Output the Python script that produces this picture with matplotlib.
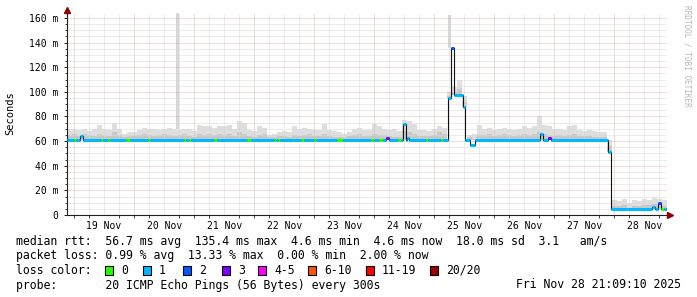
import numpy as np
import matplotlib
matplotlib.use("Agg")
import matplotlib.pyplot as plt
from matplotlib.patches import Rectangle

# time axis: hours since Nov 18 00:00
t_start = 21.15
t_end = 261.15

# median rtt (ms): step starts, values, lost pings out of 20
med_t = [21.15, 23.95, 24.75, 26.35, 27.55, 34.75, 35.55, 37.55, 38.35, 44.75,
         46.35, 53.55, 54.35, 67.95, 68.75, 69.95, 70.75, 79.95, 81.15, 93.15,
         94.75, 103.95, 104.75, 105.55, 106.35, 114.75, 115.95, 119.95, 120.75, 129.15,
         131.55, 142.75, 143.95, 145.95, 147.55, 148.75, 149.95, 153.55, 154.75, 155.55,
         156.75, 157.15, 157.95, 164.75, 165.55, 170.75, 171.55, 173.55, 174.75, 175.95,
         179.55, 180.35, 182.35, 184.35, 210.35, 211.55, 213.55, 214.75, 237.55, 238.75,
         255.15, 256.35, 257.55, 258.75, 259.95]
med_ms = [61, 61, 61, 64, 61, 61, 61, 61, 61, 61,
          61, 61, 61, 61, 61, 61, 61, 61, 61, 61,
          61, 61, 61, 61, 61, 61, 61, 61, 61, 61,
          61, 61, 61, 61, 61, 62.5, 61, 61, 61, 74,
          61, 62.5, 61, 61, 61, 61, 61, 95, 135.4, 97.5,
          88, 61, 57, 61, 65.5, 61, 62.5, 61, 51, 4.6,
          6.5, 4.6, 9.7, 4.6, 4.6]
med_loss = [1, 0, 1, 1, 1, 0, 1, 0, 1, 0,
            1, 0, 1, 0, 1, 0, 1, 0, 1, 0,
            1, 0, 1, 0, 1, 0, 1, 0, 1, 0,
            1, 0, 1, 0, 1, 3, 1, 0, 1, 1,
            1, 1, 1, 0, 1, 0, 1, 1, 2, 1,
            1, 1, 1, 1, 1, 1, 3, 1, 1, 1,
            1, 1, 2, 0, 1]

# smoke: 2 hour bins, bottom / dark top / light top (ms)
smoke_hi = [70, 70, 69, 70, 68, 70, 73, 70, 69, 75,
            70, 66, 67, 67, 69, 71, 70, 70, 69, 70,
            71, 70, 69, 70, 70, 68, 73, 72, 72, 71,
            72, 72, 73, 70, 76, 75, 69, 68, 72, 71,
            65, 66, 67, 68, 67, 72, 70, 71, 70, 69,
            69, 74, 69, 68, 67, 66, 67, 70, 71, 69,
            69, 74, 72, 70, 69, 70, 68, 77, 76, 74,
            69, 69, 68, 70, 72, 71, 100, 104, 110, 97,
            65, 66, 73, 70, 71, 69, 70, 71, 70, 69,
            70, 72, 71, 72, 80, 73, 72, 70, 70, 69,
            72, 73, 69, 68, 69, 68, 67, 67, 61, 12,
            11, 13, 10, 12, 11, 13, 12, 14, 13, 12]
smoke_mid = [65, 66, 64, 66, 65, 64, 66, 65, 64, 67,
             65, 63, 64, 64, 65, 66, 65, 64, 65, 66,
             65, 64, 65, 66, 64, 63, 66, 65, 66, 65,
             66, 65, 66, 64, 67, 66, 64, 63, 65, 66,
             63, 63, 64, 64, 63, 65, 64, 65, 66, 64,
             64, 66, 64, 63, 63, 63, 64, 65, 66, 64,
             64, 66, 65, 65, 64, 63, 63, 68, 67, 66,
             64, 64, 64, 65, 67, 66, 97, 100, 102, 92,
             63, 62, 65, 65, 66, 64, 65, 66, 65, 64,
             65, 66, 65, 66, 67, 66, 65, 64, 65, 64,
             65, 66, 64, 64, 64, 63, 63, 63, 56, 7,
             7, 8, 6, 7, 7, 8, 8, 9, 8, 7]
smoke_lo = [61] * 76 + [95, 97.5, 97.5, 88] + [61] * 28 + [51] + [4.6] * 11

# narrow single-sample smoke spikes
spike_t = [65.35, 174.15]
spike_lo = [70, 135.4]
spike_hi = [164, 162]

day_labels = ["19 Nov", "20 Nov", "21 Nov", "22 Nov", "23 Nov",
              "24 Nov", "25 Nov", "26 Nov", "27 Nov", "28 Nov"]

loss_names = ["0", "1", "2", "3", "4-5", "6-10", "11-19", "20/20"]
loss_cols = ["#26ff00", "#00b8ff", "#0059ff", "#7e00ff",
             "#ff00ff", "#ff5500", "#ff0000", "#a10000"]


def loss_color(n):
    if n <= 3:
        return loss_cols[n]
    if n <= 5:
        return loss_cols[4]
    if n <= 10:
        return loss_cols[5]
    if n <= 19:
        return loss_cols[6]
    return loss_cols[7]


W, H = 697, 297
fig = plt.figure(figsize=(W / 100, H / 100), dpi=100)
ax = fig.add_axes([67 / W, (H - 215) / H, 600 / W, 202 / H])
mono = "DejaVu Sans Mono"

# smoke
edges = t_start + 2.0 * np.arange(len(smoke_hi) + 1)
lo = np.append(smoke_lo, smoke_lo[-1])
mid = np.append(smoke_mid, smoke_mid[-1])
hi = np.append(smoke_hi, smoke_hi[-1])
ax.fill_between(edges, lo, mid, step="post", color="#c8c8c8", lw=0, zorder=1)
ax.fill_between(edges, mid, hi, step="post", color="#dedede", lw=0, zorder=1)
for t, a, b in zip(spike_t, spike_lo, spike_hi):
    ax.add_patch(Rectangle((t - 0.5, a), 1.0, b - a, color="#d6d6d6", lw=0, zorder=1))

# grid
red = "#e6b8b8"
grey = "#d9d9d9"
dots = (0, (1, 1))
for h in np.arange(24, t_end, 6):
    ax.axvline(h, color=red if h % 24 == 0 else grey, lw=0.72, ls=dots, zorder=2)
for v in np.arange(5, 165, 5):
    ax.axhline(v, color=red if v % 20 == 0 else grey, lw=0.72, ls=dots, zorder=2)

# median line
ends = med_t[1:] + [t_end]
ax.step(med_t + [t_end], med_ms + [med_ms[-1]], where="post", color="#101010", lw=0.8, zorder=3)
ax.hlines(med_ms, med_t, ends, colors=[loss_color(n) for n in med_loss], lw=2.2, zorder=4)

ax.set_xlim(t_start, t_end)
ax.set_ylim(0, 164)
for s in ["top", "right"]:
    ax.spines[s].set_visible(False)
for s in ["left", "bottom"]:
    ax.spines[s].set_color("#202020")
    ax.spines[s].set_linewidth(0.8)

ax.set_yticks(np.arange(0, 161, 20))
ax.set_yticklabels(["0"] + ["%d m" % v for v in range(20, 161, 20)])
ax.set_yticks(np.arange(0, 161, 5), minor=True)
ax.set_xticks(np.arange(36, 36 + 24 * len(day_labels), 24))
ax.set_xticklabels(day_labels)
ax.set_xticks(np.arange(24, t_end, 6), minor=True)
ax.tick_params(axis="y", which="major", length=2.5, width=0.7, pad=3.5, labelsize=7, color="#202020")
ax.tick_params(axis="y", which="minor", length=1.5, width=0.6, color="#202020")
ax.tick_params(axis="x", which="major", length=0, pad=4.5, labelsize=7)
ax.tick_params(axis="x", which="minor", length=2.5, width=0.6, color="#202020")
for lab in ax.get_xticklabels() + ax.get_yticklabels():
    lab.set_family(mono)

# arrows
ax.plot([t_start], [166.5], marker="^", ms=4, color="#8b0000", clip_on=False, zorder=5)
ax.plot([t_end + 1.2], [0], marker=">", ms=4, color="#8b0000", clip_on=False, zorder=5)
ax.plot([t_start, t_start], [164, 166], color="#202020", lw=0.8, clip_on=False)

fig.text(10 / W, 1 - 113 / H, "Seconds", rotation=90, family=mono, fontsize=7.5,
         ha="center", va="center")
fig.text(687 / W, 1 - 5 / H, "RRDTOOL / TOBI OETIKER", rotation=270, family=mono,
         fontsize=5.6, color="#b8b8b8", ha="center", va="top")


def line(y, s, x=16, **kw):
    fig.text(x / W, 1 - y / H, s, family=mono, fontsize=8.3, va="center", **kw)


line(241, "median rtt:  56.7 ms avg  135.4 ms max  4.6 ms min  4.6 ms now  18.0 ms sd  3.1   am/s")
line(256, "packet loss: 0.99 % avg  13.33 % max  0.00 % min  2.00 % now")
line(270, "loss color:")
line(285, "probe:       20 ICMP Echo Pings (56 Bytes) every 300s")
line(285, "Fri Nov 28 21:09:10 2025", x=681, ha="right")

box_x = [105, 143, 183, 222, 258, 308, 366, 430]
for bx, name, col in zip(box_x, loss_names, loss_cols):
    fig.patches.append(Rectangle((bx / W, 1 - 275 / H), 8 / W, 9 / H, transform=fig.transFigure,
                                 facecolor=col, edgecolor="black", lw=0.8))
    line(270, name, x=bx + 16)

fig.savefig("out.png", dpi=100)
